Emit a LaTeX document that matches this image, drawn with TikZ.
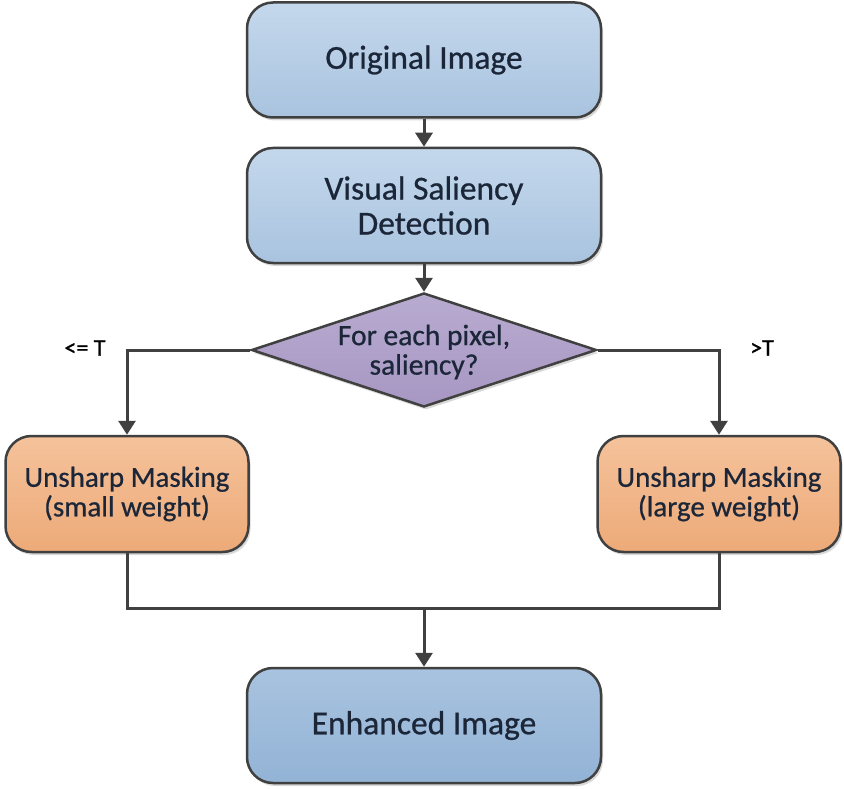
\documentclass[tikz,border=0pt]{standalone}
\usepackage{fontspec}
\setmainfont{Carlito}[FakeBold=0.7]
\newfontfamily\labelfont{Carlito}[FakeBold=1.2]
\usetikzlibrary{shapes.geometric,arrows.meta,shadows}

\definecolor{edge}{HTML}{404040}
\definecolor{ink}{HTML}{1B2638}
\definecolor{blueTop}{HTML}{C4D8EC}
\definecolor{blueBot}{HTML}{A9C3DF}
\definecolor{blueDarkTop}{HTML}{A8C3DF}
\definecolor{blueDarkBot}{HTML}{93B3D6}
\definecolor{orangeTop}{HTML}{F5C29B}
\definecolor{orangeBot}{HTML}{EDAA78}
\definecolor{violetTop}{HTML}{B8ABD0}
\definecolor{violetBot}{HTML}{A797C3}

\tikzset{
  box/.style={draw=edge, line width=2.5pt, rounded corners=26pt,
    text=ink, align=center, inner sep=0pt,
    drop shadow={shadow xshift=2pt, shadow yshift=-3pt, opacity=0.3}},
  procbox/.style={box, top color=blueTop, bottom color=blueBot,
    minimum width=354pt, minimum height=115pt,
    font=\fontsize{33.5}{35}\selectfont},
  resultbox/.style={box, top color=blueDarkTop, bottom color=blueDarkBot,
    minimum width=354pt, minimum height=115pt,
    font=\fontsize{33.5}{35}\selectfont},
  sharpbox/.style={box, top color=orangeTop, bottom color=orangeBot,
    minimum width=243pt, minimum height=116pt,
    font=\fontsize{29}{29.5}\selectfont},
  decision/.style={diamond, draw=edge, line width=2.5pt,
    top color=violetTop, bottom color=violetBot, inner sep=0pt,
    minimum width=345pt, minimum height=114pt,
    drop shadow={shadow xshift=2pt, shadow yshift=-3pt, opacity=0.3}},
  decisiontext/.style={text=ink, align=center, inner sep=0pt,
    font=\fontsize{29.5}{29.5}\selectfont},
  branchlabel/.style={text=black, inner sep=0pt,
    font=\labelfont\fontsize{24}{26}\selectfont},
  link/.style={draw=edge, line width=3pt},
  flow/.style={link, -{Triangle[width=17pt,length=14pt]}},
}

\begin{document}
\begin{tikzpicture}[x=1pt,y=-1pt]
  \useasboundingbox (0,0) rectangle (844,789);

  % main column
  \node[procbox] (orig) at (424,60) {Original Image};
  \node[procbox] (vsd) at (424,205.5) {Visual Saliency\\Detection};
  \node[decision] (dec) at (424,350) {};
  \node[decisiontext] (dectext) at (424,352) {For each pixel,\\saliency?};

  % two sharpening branches
  \node[sharpbox] (small) at (127,494) {Unsharp Masking\\(small weight)};
  \node[sharpbox] (large) at (719,494) {Unsharp Masking\\(large weight)};

  \node[resultbox] (enh) at (424,725.5) {Enhanced Image};

  % branch conditions
  \node[branchlabel] (lowlab) at (85,348) {<= T};
  \node[branchlabel] (highlab) at (762,348) {>T};

  \coordinate (merge) at (424,608);

  % connectors
  \draw[flow] (orig) -- (vsd);
  \draw[flow] (vsd) -- (dec);
  \draw[flow] (dec.west) -| (small.north);
  \draw[flow] (dec.east) -| (large.north);
  \draw[link] (small.south) |- (merge);
  \draw[link] (large.south) |- (merge);
  \draw[flow] (merge) -- (enh.north);
\end{tikzpicture}
\end{document}
